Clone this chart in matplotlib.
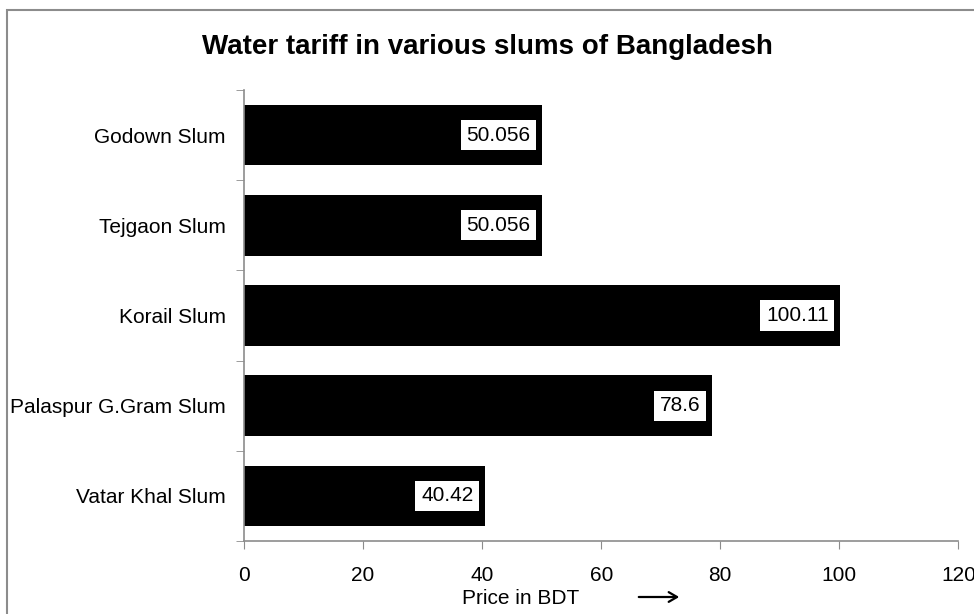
import matplotlib
matplotlib.use("Agg")
import matplotlib.pyplot as plt
from matplotlib.patches import Rectangle

plt.rcParams["font.family"] = ["Liberation Sans", "DejaVu Sans"]

# data
slums = ["Godown Slum", "Tejgaon Slum", "Korail Slum", "Palaspur G.Gram Slum", "Vatar Khal Slum"]
prices = [50.056, 50.056, 100.11, 78.6, 40.42]
price_labels = ["50.056", "50.056", "100.11", "78.6", "40.42"]
xticks = [0, 20, 40, 60, 80, 100, 120]

fig = plt.figure(figsize=(9.74, 6.14), dpi=100)
ax = fig.add_axes([0.2505, 0.1189, 0.7335, 0.7345])

# gray frame around the chart area (cut off at right/bottom like the reference)
fig.patches.append(Rectangle((7 / 974, -0.1), 1.2, 1 - 10 / 614 + 0.1,
                             transform=fig.transFigure, fill=False,
                             edgecolor="#8c8c8c", linewidth=1.5))

ypos = list(range(len(slums)))[::-1]
ax.barh(ypos, prices, height=0.67, color="black")

for y, v, lab in zip(ypos, prices, price_labels):
    ax.text(v - 1.9, y, lab, ha="right", va="center", fontsize=15, color="black",
            bbox=dict(facecolor="white", edgecolor="none", pad=4))

ax.set_xlim(0, 120)
ax.set_ylim(-0.5, len(slums) - 0.5)
ax.set_xticks(xticks)
ax.set_xticklabels([str(t) for t in xticks], fontsize=15)
ax.set_yticks(ypos)
ax.set_yticklabels(slums, fontsize=15)
ax.tick_params(axis="y", length=0, pad=13)
ax.set_yticks([i - 0.5 for i in range(len(slums) + 1)], minor=True)
ax.tick_params(axis="y", which="minor", length=6, color="#8c8c8c", direction="out")
ax.tick_params(axis="x", length=6, color="#8c8c8c", direction="out", pad=12)

for s in ["top", "right"]:
    ax.spines[s].set_visible(False)
for s in ["left", "bottom"]:
    ax.spines[s].set_color("#8c8c8c")
    ax.spines[s].set_linewidth(1.2)

fig.text(0.5, 1 - 47 / 614, "Water tariff in various slums of Bangladesh",
         ha="center", va="center", fontsize=20, fontweight="bold")

fig.text(521 / 974, 1 - 598 / 614, "Price in BDT", ha="center", va="center", fontsize=15)
ax.annotate("", xy=(682 / 974, 1 - 597 / 614), xytext=(636 / 974, 1 - 597 / 614),
            xycoords="figure fraction",
            arrowprops=dict(arrowstyle="->,head_length=0.6,head_width=0.35",
                            color="black", lw=1.6))

fig.savefig("out.png", dpi=100, facecolor="white")
